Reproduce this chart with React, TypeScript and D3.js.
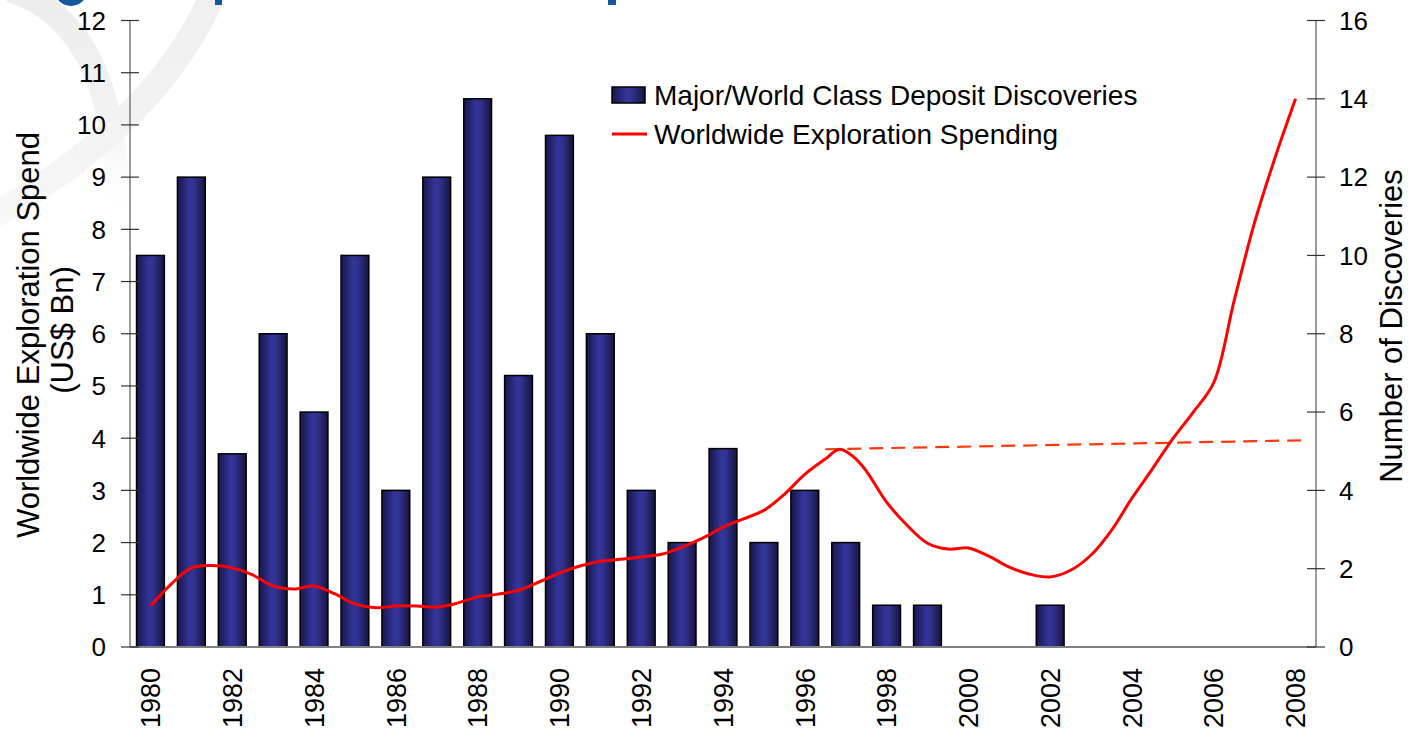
import React from "react";
import * as d3 from "d3";

const years = d3.range(1980, 2009).map(String);
// Major/World Class Deposit Discoveries (bars, read on the left axis grid)
const discoveries = [7.5, 9, 3.7, 6, 4.5, 7.5, 3, 9, 10.5, 5.2, 9.8, 6, 3, 2, 3.8, 2, 3, 2, 0.8, 0.8, 0, 0, 0.8, 0, 0, 0, 0, 0, 0];
// Worldwide Exploration Spending (line, read on the right axis), half-year points
const spendYears = [1980, 1980.5, 1981, 1981.5, 1982, 1982.5, 1983, 1983.5, 1984, 1984.5, 1985, 1985.5, 1986, 1986.5, 1987, 1987.5, 1988, 1988.5, 1989, 1989.5, 1990, 1990.5, 1991, 1991.5, 1992, 1992.5, 1993, 1993.5, 1994, 1994.5, 1995, 1995.5, 1996, 1996.5, 1996.85, 1997.2, 1997.5, 1998, 1998.5, 1999, 1999.5, 2000, 2000.5, 2001, 2001.5, 2002, 2002.5, 2003, 2003.5, 2004, 2004.5, 2005, 2005.5, 2006, 2006.5, 2007, 2007.5, 2008];
const spendValues = [1.05, 1.6, 2.02, 2.08, 2.02, 1.84, 1.56, 1.48, 1.56, 1.36, 1.1, 1.0, 1.05, 1.05, 1.02, 1.12, 1.28, 1.35, 1.45, 1.66, 1.89, 2.07, 2.19, 2.24, 2.3, 2.37, 2.55, 2.78, 3.06, 3.27, 3.49, 3.9, 4.41, 4.8, 5.05, 4.85, 4.5, 3.7, 3.11, 2.65, 2.5, 2.53, 2.32, 2.04, 1.86, 1.79, 1.96, 2.35, 2.98, 3.8, 4.55, 5.32, 6.0, 6.75, 8.85, 10.85, 12.5, 14.0];
const trendYears = [1996.5, 2008.2];
const trendValues = [5.05, 5.28];
const leftTicks = d3.range(0, 13);
const rightTicks = d3.range(0, 17, 2);
const xTickLabels = d3.range(1980, 2009, 2).map(String);

const FONT = "'Liberation Sans', Arial, sans-serif";

export default function App() {
  const W = 1408, H = 736;
  const x0 = 130, x1 = 1316, yBottom = 647, yTop = 20.5;
  const x = d3.scaleBand<string>().domain(years).range([x0, x1]).paddingInner(0.32).paddingOuter(0.16);
  const xc = (y: string) => (x(y) as number) + x.bandwidth() / 2;
  const xl = d3.scaleLinear().domain([1980, 2008]).range([xc("1980"), xc("2008")]);
  const yL = d3.scaleLinear().domain([0, 12]).range([yBottom, yTop]);
  const yR = d3.scaleLinear().domain([0, 16]).range([yBottom, yTop]);

  const line = d3.line<number>().x((_, i) => xl(spendYears[i])).y((d) => yR(d)).curve(d3.curveCatmullRom.alpha(0.5));
  const trend = d3.line<number>().x((_, i) => xl(trendYears[i])).y((d) => yR(d));

  return (
    <svg width={W} height={H} style={{ position: "absolute", left: 0, top: 0, background: "#fff" }} fontFamily={FONT}>
      <defs>
        <linearGradient id="barGrad" x1="0" x2="1" y1="0" y2="0">
          <stop offset="0" stopColor="#17174a" />
          <stop offset="0.45" stopColor="#34349b" />
          <stop offset="0.6" stopColor="#32328f" />
          <stop offset="1" stopColor="#15153f" />
        </linearGradient>
        <linearGradient id="swirlA" x1="0" x2="0" y1="0" y2="1">
          <stop offset="0" stopColor="#ececec" />
          <stop offset="0.6" stopColor="#f3f3f3" />
          <stop offset="1" stopColor="#ffffff" stopOpacity="0" />
        </linearGradient>
        <linearGradient id="swirlB" x1="1" x2="0" y1="0" y2="1">
          <stop offset="0" stopColor="#efefef" />
          <stop offset="0.6" stopColor="#f3f3f3" />
          <stop offset="1" stopColor="#f8f8f8" />
        </linearGradient>
      </defs>
      {/* decorative background swirl */}
      <path d="M 10,-10 Q 120,25 118,220" fill="none" stroke="url(#swirlA)" strokeWidth={24} />
      <path d="M 215,-10 Q 160,120 -5,215" fill="none" stroke="url(#swirlB)" strokeWidth={26} />
      {/* cut-off title fragments */}
      <ellipse cx={71} cy={-9} rx={16} ry={15} fill="#14599b" />
      <rect x={215} y={0} width={7} height={5} fill="#14599b" />
      <rect x={608} y={0} width={8} height={5} fill="#14599b" />

      {/* bars */}
      {years.map((yr, i) =>
        discoveries[i] > 0 ? (
          <rect key={yr} x={x(yr)} y={yL(discoveries[i])} width={x.bandwidth()} height={yBottom - yL(discoveries[i])}
            fill="url(#barGrad)" stroke="#000" strokeWidth={1.5} />
        ) : null
      )}

      {/* axes */}
      <line x1={x0} x2={x0} y1={yTop} y2={yBottom} stroke="#7a7a7a" strokeWidth={1.5} />
      <line x1={x1} x2={x1} y1={yTop} y2={yBottom} stroke="#7a7a7a" strokeWidth={1.5} />
      <line x1={x0} x2={x1} y1={yBottom} y2={yBottom} stroke="#808080" strokeWidth={2} />
      {leftTicks.map((t) => (
        <g key={"l" + t}>
          <line x1={x0 - 9} x2={x0 + 9} y1={yL(t)} y2={yL(t)} stroke="#333" strokeWidth={1.2} />
          <text x={106} y={yL(t)} dy="0.36em" textAnchor="end" fontSize={26}>{t}</text>
        </g>
      ))}
      {rightTicks.map((t) => (
        <g key={"r" + t}>
          <line x1={x1 - 9} x2={x1 + 9} y1={yR(t)} y2={yR(t)} stroke="#333" strokeWidth={1.2} />
          <text x={1339} y={yR(t)} dy="0.36em" textAnchor="start" fontSize={26}>{t}</text>
        </g>
      ))}
      {xTickLabels.map((t) => (
        <text key={"x" + t} transform={`translate(${xc(t)},668) rotate(-90)`} dy="0.36em" textAnchor="end" fontSize={27}>{t}</text>
      ))}

      {/* lines */}
      <path d={trend(trendValues) as string} fill="none" stroke="#ff3a0a" strokeWidth={2.2} strokeDasharray="14,8" />
      <path d={line(spendValues) as string} fill="none" stroke="#ff0000" strokeWidth={3} />

      {/* axis titles */}
      <text transform="translate(28,335) rotate(-90)" dy="0.36em" textAnchor="middle" fontSize={31}>Worldwide Exploration Spend</text>
      <text transform="translate(62,330) rotate(-90)" dy="0.36em" textAnchor="middle" fontSize={31}>(US$ Bn)</text>
      <text transform="translate(1391,326) rotate(-90)" dy="0.34em" textAnchor="middle" fontSize={31}>Number of Discoveries</text>

      {/* legend */}
      <rect x={612} y={87} width={33} height={16} fill="url(#barGrad)" stroke="#000" strokeWidth={1.5} />
      <text x={654} y={95} dy="0.36em" fontSize={28}>Major/World Class Deposit Discoveries</text>
      <line x1={612} x2={647} y1={134} y2={134} stroke="#ff0000" strokeWidth={3} />
      <text x={654} y={134} dy="0.36em" fontSize={28}>Worldwide Exploration Spending</text>
    </svg>
  );
}
